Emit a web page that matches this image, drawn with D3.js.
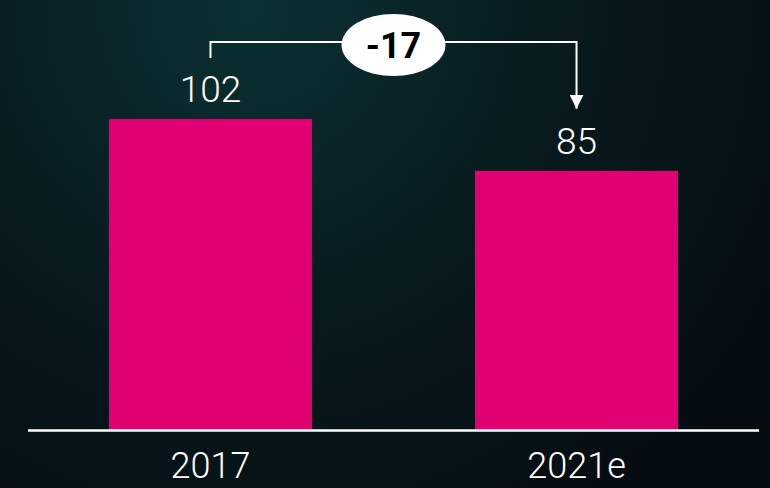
<!DOCTYPE html>
<html>
<head>
  <meta charset="utf-8">
  <script src="https://d3js.org/d3.v7.min.js"></script>
  <style>
    html, body { margin: 0; padding: 0; background: #061015; }
    text { font-family: Roboto, "Liberation Sans", sans-serif; font-weight: 300; }
  </style>
</head>
<body>
  <svg width="770" height="488"></svg>

  <script>
    // Data
    const categories = ["2017", "2021e"];
    const values = [102, 85];
    const changeLabel = "-17";

    const svg = d3.select("svg");

    // Background with soft teal glow top-left
    const defs = svg.append("defs");
    const grad = defs.append("radialGradient")
      .attr("id", "bg")
      .attr("gradientUnits", "userSpaceOnUse")
      .attr("cx", 250).attr("cy", 10).attr("r", 620);
    grad.append("stop").attr("offset", "0%").attr("stop-color", "#0b3133");
    grad.append("stop").attr("offset", "45%").attr("stop-color", "#081c20");
    grad.append("stop").attr("offset", "100%").attr("stop-color", "#050c11");

    svg.append("rect")
      .attr("width", 770).attr("height", 488)
      .attr("fill", "url(#bg)");

    // Scales
    const x = d3.scaleBand()
      .domain(categories)
      .range([28, 759])
      .paddingInner(0.445)
      .paddingOuter(0.221);

    const y = d3.scaleLinear()
      .domain([0, 102])
      .range([430, 119]);

    // Bars
    svg.selectAll(".bar")
      .data(values)
      .enter()
      .append("rect")
      .attr("class", "bar")
      .attr("x", (d, i) => x(categories[i]))
      .attr("y", d => y(d))
      .attr("width", x.bandwidth())
      .attr("height", d => y(0) - y(d))
      .attr("fill", "#e10074");

    // Value labels
    svg.selectAll(".val")
      .data(values)
      .enter()
      .append("text")
      .attr("class", "val")
      .attr("x", (d, i) => x(categories[i]) + x.bandwidth() / 2)
      .attr("y", d => y(d) - 17)
      .attr("text-anchor", "middle")
      .attr("fill", "#ffffff")
      .attr("font-size", 37)
      .text(d => d);

    // Baseline axis
    const axis = svg.append("g")
      .attr("transform", `translate(0,${y(0)})`)
      .call(d3.axisBottom(x).tickSize(0).tickPadding(22));
    axis.select(".domain")
      .attr("d", "M28,0.5H759")
      .attr("stroke", "#ffffff")
      .attr("stroke-width", 2.5);
    axis.selectAll(".tick text")
      .attr("fill", "#ffffff")
      .attr("font-size", 36)
      .attr("font-family", "Roboto, Liberation Sans, sans-serif")
      .attr("dy", "0.71em");

    // Change bracket with arrow
    defs.append("marker")
      .attr("id", "arrow")
      .attr("viewBox", "0 0 10 10")
      .attr("refX", 10).attr("refY", 5)
      .attr("markerWidth", 14).attr("markerHeight", 14)
      .attr("markerUnits", "userSpaceOnUse")
      .attr("orient", "auto")
      .append("path")
      .attr("d", "M0,0L10,5L0,10Z")
      .attr("fill", "#ffffff");

    const x1 = x(categories[0]) + x.bandwidth() / 2;
    const x2 = x(categories[1]) + x.bandwidth() / 2;
    const topY = 42;

    svg.append("path")
      .attr("d", `M${x1},${y(values[0]) - 61}V${topY}H${x2}V${y(values[1]) - 62}`)
      .attr("fill", "none")
      .attr("stroke", "#ffffff")
      .attr("stroke-width", 2)
      .attr("marker-end", "url(#arrow)");

    const mid = (x1 + x2) / 2;
    svg.append("ellipse")
      .attr("cx", mid).attr("cy", 45)
      .attr("rx", 52).attr("ry", 31)
      .attr("fill", "#ffffff");

    svg.append("text")
      .attr("x", mid).attr("y", 58)
      .attr("text-anchor", "middle")
      .attr("fill", "#000000")
      .attr("font-size", 36)
      .style("font-weight", "bold")
      .text(changeLabel);
  </script>
</body>
</html>
